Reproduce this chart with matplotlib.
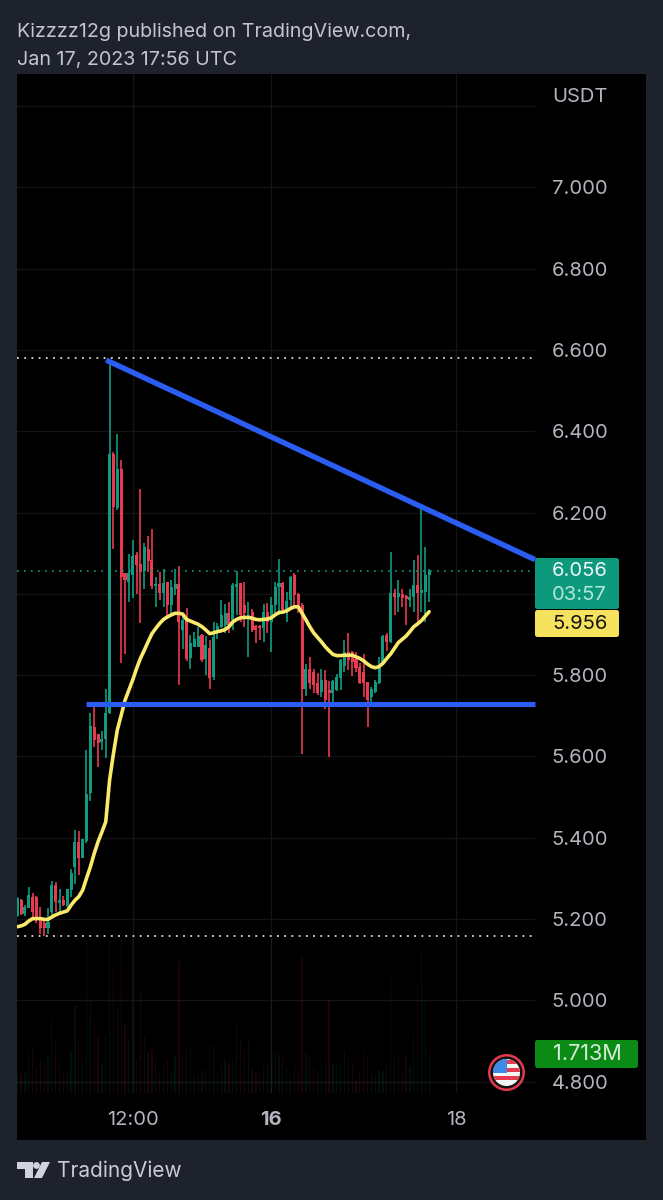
import matplotlib
matplotlib.use('Agg')
import matplotlib.pyplot as plt
from matplotlib.patches import Circle, FancyBboxPatch, Polygon, Rectangle
import numpy as np

# hours from the 12:00 grid line minus 12, one candle per hour
hours = list(range(-18, 90))

opens = [5.207, 5.246, 5.212, 5.228, 5.255, 5.255, 5.197, 5.189, 5.177, 5.218,
         5.283, 5.240, 5.246, 5.234, 5.271, 5.328, 5.390, 5.351, 5.392, 5.509,
         5.673, 5.656, 5.636, 5.642, 5.707, 6.344, 6.210, 6.306, 6.050, 6.030,
         6.046, 6.095, 6.073, 6.056, 6.111, 6.083, 6.019, 6.025, 6.003, 6.028,
         5.972, 6.013, 6.025, 5.910, 5.935, 5.841, 5.870, 5.868, 5.899, 5.840,
         5.866, 5.795, 5.905, 5.919, 5.923, 5.952, 5.935, 6.016, 6.026, 5.972,
         5.937, 5.956, 5.921, 5.921, 5.915, 5.956, 5.931, 5.972, 6.016, 6.026,
         5.960, 5.985, 6.046, 5.999, 5.972, 5.767, 5.815, 5.808, 5.780, 5.759,
         5.788, 5.759, 5.757, 5.763, 5.792, 5.822, 5.858, 5.858, 5.839, 5.821,
         5.808, 5.784, 5.746, 5.759, 5.780, 5.829, 5.898, 5.882, 6.001, 5.991,
         5.999, 5.995, 5.985, 5.993, 6.022, 6.003, 6.005, 6.046]
highs = [5.253, 5.248, 5.234, 5.279, 5.265, 5.256, 5.230, 5.201, 5.228, 5.294,
         5.290, 5.275, 5.256, 5.275, 5.324, 5.419, 5.416, 5.398, 5.615, 5.706,
         5.724, 5.656, 5.662, 5.767, 6.575, 6.349, 6.394, 6.330, 6.050, 6.099,
         6.132, 6.102, 6.259, 6.126, 6.143, 6.159, 6.042, 6.054, 6.062, 6.030,
         6.034, 6.060, 6.068, 5.948, 5.964, 5.898, 5.907, 5.919, 5.900, 5.895,
         5.886, 5.931, 5.927, 5.985, 5.975, 5.980, 6.026, 6.057, 6.026, 6.030,
         5.981, 5.962, 5.923, 5.923, 5.975, 5.977, 5.993, 6.030, 6.085, 6.028,
         6.005, 6.044, 6.050, 6.003, 5.977, 5.827, 5.844, 5.815, 5.804, 5.814,
         5.812, 5.785, 5.788, 5.802, 5.839, 5.886, 5.904, 5.860, 5.858, 5.829,
         5.853, 5.784, 5.771, 5.788, 5.845, 5.898, 5.903, 6.103, 6.013, 6.034,
         6.013, 5.997, 6.013, 6.083, 6.095, 6.208, 6.114, 6.062]
lows = [5.204, 5.210, 5.207, 5.226, 5.201, 5.189, 5.164, 5.158, 5.164, 5.210,
        5.218, 5.218, 5.232, 5.230, 5.255, 5.285, 5.308, 5.349, 5.388, 5.490,
        5.622, 5.573, 5.615, 5.595, 5.704, 6.110, 6.207, 5.829, 5.853, 5.980,
        5.989, 5.999, 5.927, 6.011, 6.054, 6.013, 5.968, 5.984, 5.968, 5.943,
        5.948, 5.997, 5.775, 5.864, 5.835, 5.816, 5.870, 5.868, 5.833, 5.800,
        5.767, 5.789, 5.888, 5.915, 5.903, 5.903, 5.912, 5.948, 5.931, 5.919,
        5.844, 5.907, 5.880, 5.886, 5.882, 5.904, 5.858, 5.948, 5.948, 5.956,
        5.931, 5.968, 5.968, 5.952, 5.606, 5.749, 5.767, 5.755, 5.751, 5.747,
        5.716, 5.599, 5.735, 5.762, 5.763, 5.808, 5.812, 5.798, 5.808, 5.778,
        5.747, 5.673, 5.722, 5.755, 5.778, 5.825, 5.860, 5.878, 5.948, 5.956,
        5.968, 5.923, 5.968, 5.956, 5.923, 5.956, 5.931, 5.980]
closes = [5.251, 5.212, 5.230, 5.259, 5.218, 5.205, 5.177, 5.179, 5.193, 5.283,
          5.242, 5.246, 5.234, 5.273, 5.312, 5.390, 5.351, 5.396, 5.507, 5.674,
          5.640, 5.632, 5.642, 5.707, 6.344, 6.214, 6.306, 6.042, 6.034, 6.050,
          6.093, 6.071, 6.054, 6.116, 6.081, 6.019, 6.023, 6.003, 6.027, 5.972,
          6.017, 6.025, 5.931, 5.935, 5.840, 5.880, 5.890, 5.895, 5.837, 5.874,
          5.792, 5.894, 5.920, 5.948, 5.952, 5.923, 6.022, 6.024, 5.948, 5.952,
          5.948, 5.911, 5.911, 5.915, 5.956, 5.931, 5.972, 6.017, 6.026, 5.960,
          5.983, 6.042, 5.997, 5.972, 5.767, 5.815, 5.780, 5.776, 5.755, 5.789,
          5.739, 5.757, 5.786, 5.796, 5.837, 5.858, 5.837, 5.833, 5.817, 5.780,
          5.780, 5.739, 5.767, 5.784, 5.817, 5.896, 5.882, 6.001, 5.991, 6.001,
          5.989, 5.987, 5.991, 6.022, 6.003, 6.005, 6.046, 6.056]
ma_values = [5.181, 5.183, 5.187, 5.195, 5.201, 5.201, 5.201, 5.199, 5.199, 5.205,
             5.210, 5.214, 5.217, 5.220, 5.234, 5.246, 5.255, 5.271, 5.300, 5.328,
             5.361, 5.390, 5.414, 5.439, 5.542, 5.607, 5.665, 5.701, 5.738, 5.763,
             5.788, 5.816, 5.841, 5.861, 5.882, 5.902, 5.915, 5.927, 5.937, 5.943,
             5.948, 5.952, 5.952, 5.950, 5.937, 5.933, 5.929, 5.925, 5.919, 5.911,
             5.902, 5.904, 5.907, 5.909, 5.912, 5.919, 5.931, 5.937, 5.941, 5.942,
             5.942, 5.940, 5.937, 5.936, 5.937, 5.938, 5.941, 5.948, 5.954, 5.955,
             5.958, 5.964, 5.968, 5.968, 5.952, 5.936, 5.919, 5.904, 5.893, 5.882,
             5.870, 5.860, 5.851, 5.848, 5.848, 5.849, 5.849, 5.849, 5.845, 5.841,
             5.835, 5.827, 5.821, 5.818, 5.821, 5.829, 5.841, 5.852, 5.866, 5.880,
             5.888, 5.896, 5.907, 5.919, 5.926, 5.934, 5.945, 5.956]
# volume in millions
volumes = [.88, .88, .88, 1.76, 1.98, 1.10, 1.46, 1.32, 1.64, 3.15,
           2.34, 1.39, .88, 1.02, 1.83, 3.81, 2.34, 1.39, 6.73, 4.10,
           3.07, 2.49, 1.32, 2.49, 6.73, 5.49, 3.73, 6.73, 3.00, 2.34,
           6.88, 1.46, 4.47, 2.49, 1.83, 1.90, 1.39, .88, 1.17, 1.46,
           .95, 1.68, 5.78, 1.68, 1.90, 2.05, .73, .81, .95, 1.02,
           2.12, 2.12, .88, 1.17, 1.46, 1.32, 1.39, 3.07, 2.34, 1.83,
           2.34, 1.02, .88, .88, 1.24, 1.32, 6.81, 1.90, 1.68, 1.54,
           1.10, .73, 1.24, 1.02, 6.00, 1.76, 1.68, 1.10, .95, 1.24,
           1.46, 4.10, 1.32, 1.32, 1.32, 1.83, 1.32, 1.32, .51, .88,
           1.83, 1.54, .88, .73, 1.02, .95, 1.17, 5.12, 1.54, 1.61,
           1.02, 1.68, 1.17, 2.49, 4.76, 6.22, 4.10, 1.73]

price_ticks = [7.2, 7.0, 6.8, 6.6, 6.4, 6.2, 6.0, 5.8, 5.6, 5.4, 5.2, 5.0, 4.8]
time_ticks = [12, 48, 96]
time_labels = ['12:00', '16', '18']

# drawn trend lines and session extremes
top_line_hours = [5.1, 116.5]
top_line_prices = [6.575, 6.084]
base_line_hours = [0.0, 116.5]
base_line_prices = [5.729, 5.729]
session_high = 6.58
session_low = 5.158
last_volume = '1.713M'
countdown = '03:57'

WIDTH, HEIGHT = 663, 1200
BG = '#1e222d'
GRID = '#131417'
GREEN = '#129a80'
RED = '#e83a50'
YELLOW = '#fbe96b'
BLUE = '#2b5df2'
AXIS_TEXT = '#b2b5be'
FONT = 'Inter'

plt.rcParams['font.family'] = [FONT, 'DejaVu Sans']

fig = plt.figure(figsize=(WIDTH / 100, HEIGHT / 100), dpi=100, facecolor=BG)


def add_box(left, top, right, bottom):
    return fig.add_axes([left / WIDTH, 1 - bottom / HEIGHT, (right - left) / WIDTH, (bottom - top) / HEIGHT])


# panel behind everything
back = fig.add_axes([0, 0, 1, 1], zorder=0)
back.set_xlim(0, WIDTH)
back.set_ylim(HEIGHT, 0)
back.axis('off')
back.add_patch(Rectangle((17, 74), 629, 1066, color='black', lw=0))

# volume pane, same hours as the price pane
ax_vol = add_box(17, 74, 535, 1093)
ax_vol.set_zorder(2)
ax_vol.patch.set_visible(False)
ax_vol.axis('off')

ax = add_box(17, 74, 535, 1093)
ax.set_zorder(1)
ax.patch.set_visible(False)

xlim = ((17 - 132.7) / 3.85 + 12, (535 - 132.7) / 3.85 + 12)
ax.set_xlim(*xlim)
ax.set_ylim(6.2 - (1093 - 512.5) / 406.5, 6.2 + (512.5 - 74) / 406.5)
ax_vol.set_xlim(*xlim)
ax_vol.set_ylim(0, (1093 - 74) / 22.8)

ax.set_yticks(price_ticks)
ax.set_yticklabels(['' if p > 7.1 else '%.3f' % p for p in price_ticks])
ax.set_xticks(time_ticks)
ax.set_xticklabels(time_labels)
ax.yaxis.tick_right()
ax.grid(True, color=GRID, lw=1.0)
ax.set_axisbelow(True)
ax.tick_params(axis='y', length=0, pad=12, labelsize=14.5, labelcolor=AXIS_TEXT)
ax.tick_params(axis='x', length=0, pad=13, labelsize=14.5, labelcolor=AXIS_TEXT)
ax.get_xticklabels()[1].set_fontweight('bold')
for spine in ax.spines.values():
    spine.set_visible(False)

colors = [GREEN if c >= o else RED for o, c in zip(opens, closes)]
bottoms = [min(o, c) for o, c in zip(opens, closes)]
heights = [max(abs(c - o), 0.006) for o, c in zip(opens, closes)]

ax_vol.bar(hours, volumes, width=0.32, color=colors, alpha=0.10, lw=0)
ax.vlines(hours, lows, highs, colors=colors, lw=1.2, zorder=3)
ax.bar(hours, heights, bottom=bottoms, width=0.8, color=colors, lw=0, zorder=3)

ax.axhline(closes[-1], color=GREEN, lw=1.2, ls=(0, (1, 3.2)), zorder=4)
ax.axhline(session_high, color='#d8d8d8', lw=1.3, ls=(0, (1, 3)), zorder=4)
ax.axhline(session_low, color='#d8d8d8', lw=1.3, ls=(0, (1, 3)), zorder=4)

ax.plot(hours, ma_values, color=YELLOW, lw=2.6, zorder=5, solid_capstyle='round')
ax.plot(top_line_hours, top_line_prices, color=BLUE, lw=3.9, zorder=6, solid_capstyle='butt', clip_on=False)
ax.plot(base_line_hours, base_line_prices, color=BLUE, lw=3.7, zorder=6, solid_capstyle='butt', clip_on=False)

# chrome and price tags on top, in pixels
over = fig.add_axes([0, 0, 1, 1], zorder=3)
over.set_xlim(0, WIDTH)
over.set_ylim(HEIGHT, 0)
over.axis('off')


def tag(left, top, right, bottom, color):
    over.add_patch(FancyBboxPatch((left, top), right - left, bottom - top, boxstyle='round,pad=0,rounding_size=2.5',
                                  color=color, lw=0))


tag(535, 558, 619, 609, '#0d9a7c')
tag(535, 610, 619, 637, '#f6e25c')
tag(535, 1040, 638, 1068, '#0b8a16')
over.text(552, 571, '%.3f' % closes[-1], color='#f0f3fa', fontsize=14.5, va='center')
over.text(552, 595, countdown, color='#b5e6da', fontsize=14.5, va='center')
over.text(552, 624, '%.3f' % ma_values[-1], color='#131313', fontsize=14.5, va='center')
over.text(553, 1054, last_volume, color='#d6ecd8', fontsize=15.6, va='center')
over.text(552, 97, 'USDT', color=AXIS_TEXT, fontsize=14.5, va='center')

over.text(17, 32, 'Kizzzz12g published on TradingView.com,', color='#c3c6d0', fontsize=14.2, va='center')
over.text(17, 60, 'Jan 17, 2023 17:56 UTC', color='#c3c6d0', fontsize=14.2, va='center')

# TradingView logo
logo = '#d1d4dc'
over.add_patch(Polygon([(17, 1162), (33, 1162), (33, 1178), (25, 1178), (25, 1169), (17, 1169)], color=logo, lw=0))
over.add_patch(Circle((36.5, 1165.5), 3.4, color=logo, lw=0))
over.add_patch(Polygon([(42, 1162), (50, 1162), (42, 1178), (34, 1178)], color=logo, lw=0))
over.text(57, 1171, 'TradingView', color='#c9ccd5', fontsize=15, va='center')

# economic calendar flag
cx, cy = 506.5, 1072.5
over.add_patch(Circle((cx, cy), 18.5, color='#e5394e', lw=0))
over.add_patch(Circle((cx, cy), 16, color='#131313', lw=0))
clip = Circle((cx, cy), 13.5, transform=over.transData)
over.add_patch(Circle((cx, cy), 13.5, color='#f5f5f5', lw=0))
for i in [-11, -3, 5]:
    r = over.add_patch(Rectangle((cx - 14, cy + i - 2), 28, 4.5, color='#e5394e', lw=0))
    r.set_clip_path(clip)
r = over.add_patch(Rectangle((cx - 14, cy - 14), 14, 14, color='#3d8be8', lw=0))
r.set_clip_path(clip)

fig.savefig('out.png', dpi=100, facecolor=BG)
plt.close(fig)
